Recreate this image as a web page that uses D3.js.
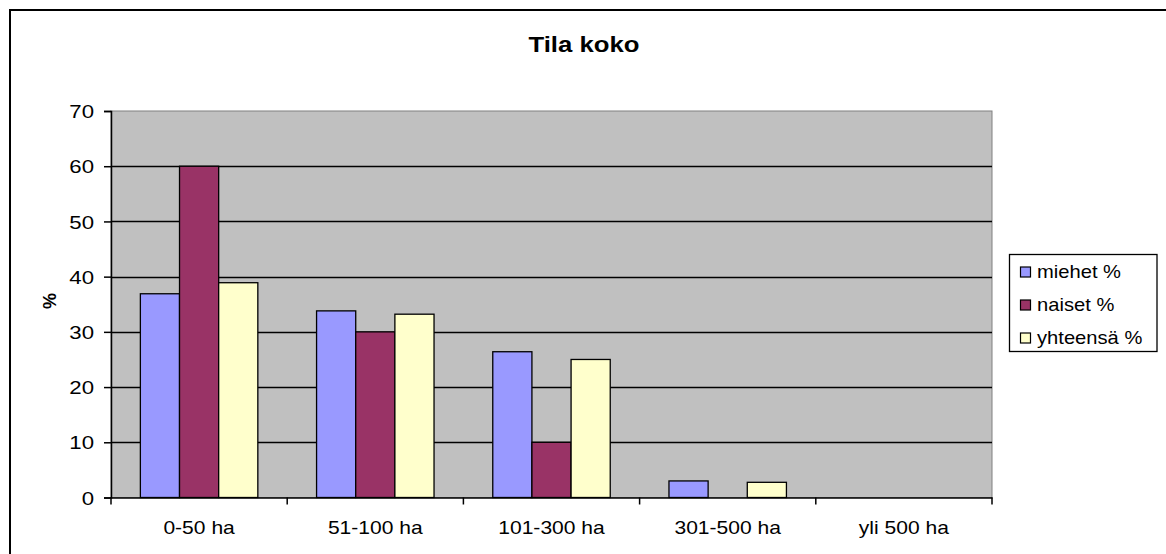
<!DOCTYPE html>
<html><head><meta charset="utf-8">
<script src="https://cdn.jsdelivr.net/npm/d3@7"></script>
<style>body{margin:0;background:#fff}text{font-family:"Liberation Sans",Arial,sans-serif}</style>
</head><body>
<svg id="c" width="1166" height="554"></svg>
<script>
const categories = ["0-50 ha","51-100 ha","101-300 ha","301-500 ha","yli 500 ha"];
const seriesNames = ["miehet %","naiset %","yhteensä %"];
const miehet = [36.9, 33.8, 26.4, 3.0, 0];
const naiset = [60, 30, 10, 0, 0];
const yhteensa = [38.9, 33.2, 25.0, 2.75, 0];
const yTicks = [0,10,20,30,40,50,60,70];
const colors = ["#9999FF","#993366","#FFFFCC"];
const title = "Tila koko";
const yLabel = "%";

const series = [miehet, naiset, yhteensa];
const svg = d3.select("#c");
const SX = 1.17;
const L = 111, R = 992, T = 111, B = 497.5;

svg.append("rect").attr("x",10).attr("y",10).attr("width",1200).attr("height",600)
  .attr("fill","#fff").attr("stroke","#000").attr("stroke-width",2);

const x0 = d3.scaleBand().domain(categories).range([L,R]);
const y = d3.scaleLinear().domain([0,70]).range([B,T]);

// Excel gap width 150%: group occupies 3/4.5 of category
const gw = x0.bandwidth()*3/4.5;
const xs2 = d3.scaleBand().domain(d3.range(3)).range([0,gw]);

svg.append("rect").attr("x",L).attr("y",T).attr("width",R-L).attr("height",B-T)
  .attr("fill","#C0C0C0").attr("stroke","#808080").attr("stroke-width",1);

svg.append("g").selectAll("line").data(yTicks.filter(d=>d>0 && d<70)).join("line")
  .attr("x1",L).attr("x2",R).attr("y1",d=>Math.round(y(d))+0.5).attr("y2",d=>Math.round(y(d))+0.5)
  .attr("stroke","#000").attr("stroke-width",1.3);

series.forEach((vals,si)=>{
  svg.append("g").selectAll("rect").data(vals.map((v,i)=>({v,c:categories[i]})).filter(d=>d.v>0)).join("rect")
    .attr("x",d=>x0(d.c)+(x0.bandwidth()-gw)/2+xs2(si))
    .attr("y",d=>y(d.v))
    .attr("width",xs2.bandwidth())
    .attr("height",d=>B-y(d.v))
    .attr("fill",colors[si]).attr("stroke","#000").attr("stroke-width",1.3);
});

// Y axis
const ya = svg.append("g").attr("transform",`translate(${L},0)`)
  .call(d3.axisLeft(y).tickValues(yTicks).tickSize(7).tickPadding(0).tickFormat(d3.format("d")));
ya.select(".domain").attr("stroke","#000").attr("stroke-width",1.5);
ya.selectAll(".tick line").attr("stroke","#000").attr("stroke-width",1.5);
ya.selectAll(".tick text").each(function(){
  const t = d3.select(this);
  t.attr("font-size",19).attr("fill","#000").attr("x",0).attr("dy","0.35em")
   .attr("text-anchor","end").attr("transform",`translate(-17,0) scale(${SX},1)`);
});

// X axis
const xa = svg.append("g").attr("transform",`translate(0,${B})`)
  .call(d3.axisBottom(x0).tickSize(0).tickPadding(0));
xa.select(".domain").attr("stroke","#000").attr("stroke-width",1.5);
xa.selectAll(".tick text").attr("font-size",18).attr("fill","#000").attr("y",0).attr("dy",0)
  .attr("transform",`translate(0,36) scale(${SX},1)`);
svg.append("g").selectAll("line").data(d3.range(categories.length+1)).join("line")
  .attr("x1",i=>L+i*x0.step()).attr("x2",i=>L+i*x0.step())
  .attr("y1",B).attr("y2",B+7).attr("stroke","#000").attr("stroke-width",1.5);

// Title
svg.append("text").attr("text-anchor","middle").attr("font-weight","bold").attr("font-size",22)
  .attr("transform",`translate(584,52) scale(${SX},1)`).text(title);

// Y label
svg.append("text").attr("text-anchor","middle").attr("font-weight","bold").attr("font-size",18)
  .attr("transform","translate(56,301) rotate(-90)")
  .text(yLabel);

// Legend
const lg = svg.append("g");
lg.append("rect").attr("x",1009.5).attr("y",254.5).attr("width",147.5).attr("height",97)
  .attr("fill","#fff").attr("stroke","#000").attr("stroke-width",1.3);
const rows = lg.selectAll("g.row").data(seriesNames).join("g").attr("class","row")
  .attr("transform",(d,i)=>`translate(1020,${272+i*33})`);
rows.append("rect").attr("x",0.5).attr("y",-5).attr("width",10).attr("height",10)
  .attr("fill",(d,i)=>colors[i]).attr("stroke","#000").attr("stroke-width",1.2);
rows.append("text").attr("font-size",18).attr("dy","0.36em")
  .attr("transform",`translate(17,0) scale(1.12,1)`).text(d=>d);
</script>
</body></html>
